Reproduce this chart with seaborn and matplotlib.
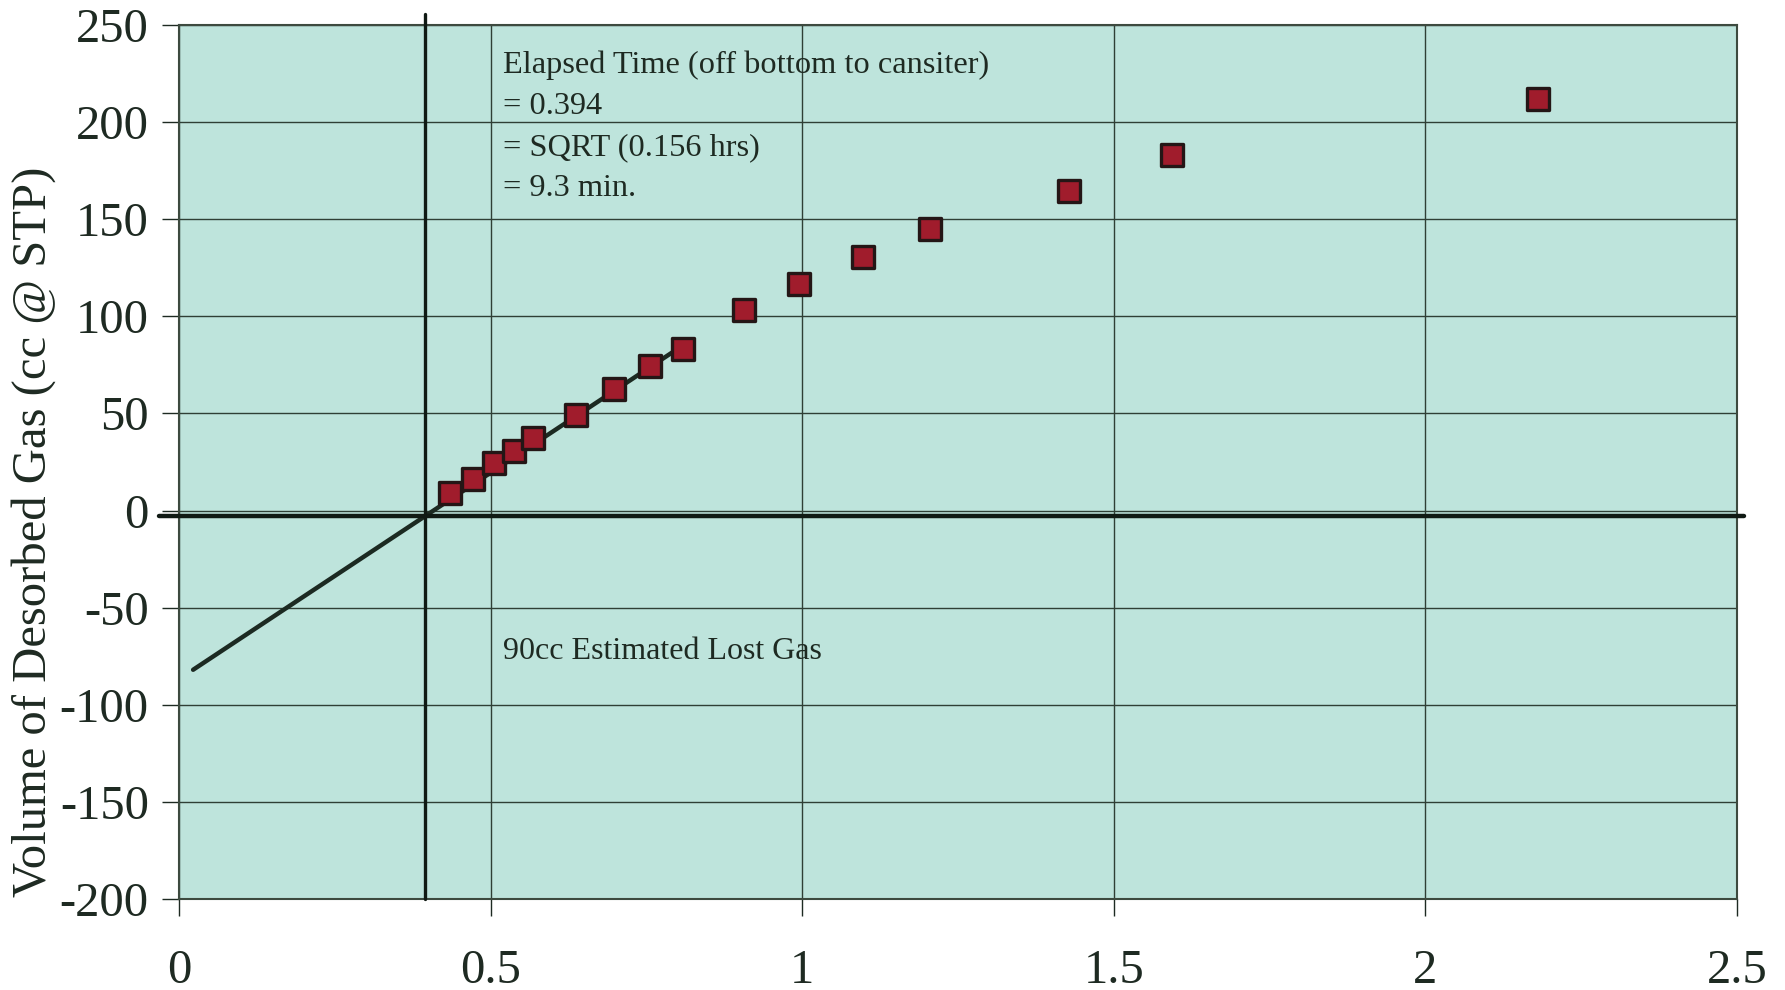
import matplotlib
matplotlib.use("Agg")
import matplotlib.pyplot as plt
import seaborn as sns
import pandas as pd

# sqrt(time) vs desorbed gas
sqrt_time = [0.435, 0.472, 0.505, 0.537, 0.567, 0.636, 0.698, 0.755, 0.808,
             0.907, 0.995, 1.097, 1.205, 1.428, 1.594, 2.181]
gas_volume = [9.2, 16.2, 24.4, 30.9, 37.3, 49.0, 62.5, 74.2, 83.0,
              103.5, 116.4, 130.5, 145.0, 164.3, 183.1, 211.8]

# straight-line extrapolation back to t=0
fit_x = [0.022, 0.808]
fit_y = [-82.0, 85.0]

elapsed_x = 0.394
x_ticks = [0, 0.5, 1, 1.5, 2, 2.5]
y_ticks = [-200, -150, -100, -50, 0, 50, 100, 150, 200, 250]

df = pd.DataFrame({"x": sqrt_time, "y": gas_volume})
fit = pd.DataFrame({"x": fit_x, "y": fit_y})

sns.set_style("ticks")
plt.rcParams["font.family"] = ["Liberation Serif", "DejaVu Serif"]
plt.rcParams["axes.unicode_minus"] = False

fig = plt.figure(figsize=(17.85, 9.9), dpi=100)
ax = fig.add_axes([0.1005, 0.092, 0.8725, 0.8827])
ax.set_facecolor("#bee4dc")

ax.set_xlim(0, 2.5)
ax.set_ylim(-200, 250)
ax.set_xticks(x_ticks)
ax.set_yticks(y_ticks)
ax.set_xticklabels(["0", "0.5", "1", "1.5", "2", "2.5"])
ax.grid(True, color="#2f3f35", linewidth=1.0)
ax.set_axisbelow(True)

sns.lineplot(data=fit, x="x", y="y", ax=ax, color="#1c2a22", linewidth=3.2,
             zorder=3)
sns.scatterplot(data=df, x="x", y="y", ax=ax, marker="s", s=240,
                color="#a01c2c", edgecolor="#241616", linewidth=2.4, zorder=4)

ax.axvline(elapsed_x, ymin=0, ymax=1.013, color="#101a14", linewidth=2.4,
           clip_on=False, zorder=3)
ax.axhline(-3, xmin=-0.013, xmax=1.0045, color="#101a14", linewidth=3.2,
           clip_on=False, zorder=3)

note = ("Elapsed Time (off bottom to cansiter)\n= 0.394\n"
        "= SQRT (0.156 hrs)\n= 9.3 min.")
ax.text(0.52, 237, note, fontsize=23.3, color="#1e2a22", va="top", ha="left",
        linespacing=1.55)
ax.text(0.52, -72.5, "90cc Estimated Lost Gas", fontsize=23,
        color="#1e2a22", va="center", ha="left")

ax.set_xlabel("")
ax.set_ylabel("Volume of Desorbed Gas (cc @ STP)", fontsize=35, color="#1e2a22")
ax.yaxis.set_label_coords(-0.079, 0.42)
ax.tick_params(axis="both", labelsize=35, colors="#1e2a22", length=12,
               width=1.0)
ax.tick_params(axis="x", pad=24)
ax.tick_params(axis="y", pad=10)
for s in ax.spines.values():
    s.set_color("#3d4a3f")
    s.set_linewidth(1.5)

fig.savefig("out.png", dpi=100, facecolor="white")
